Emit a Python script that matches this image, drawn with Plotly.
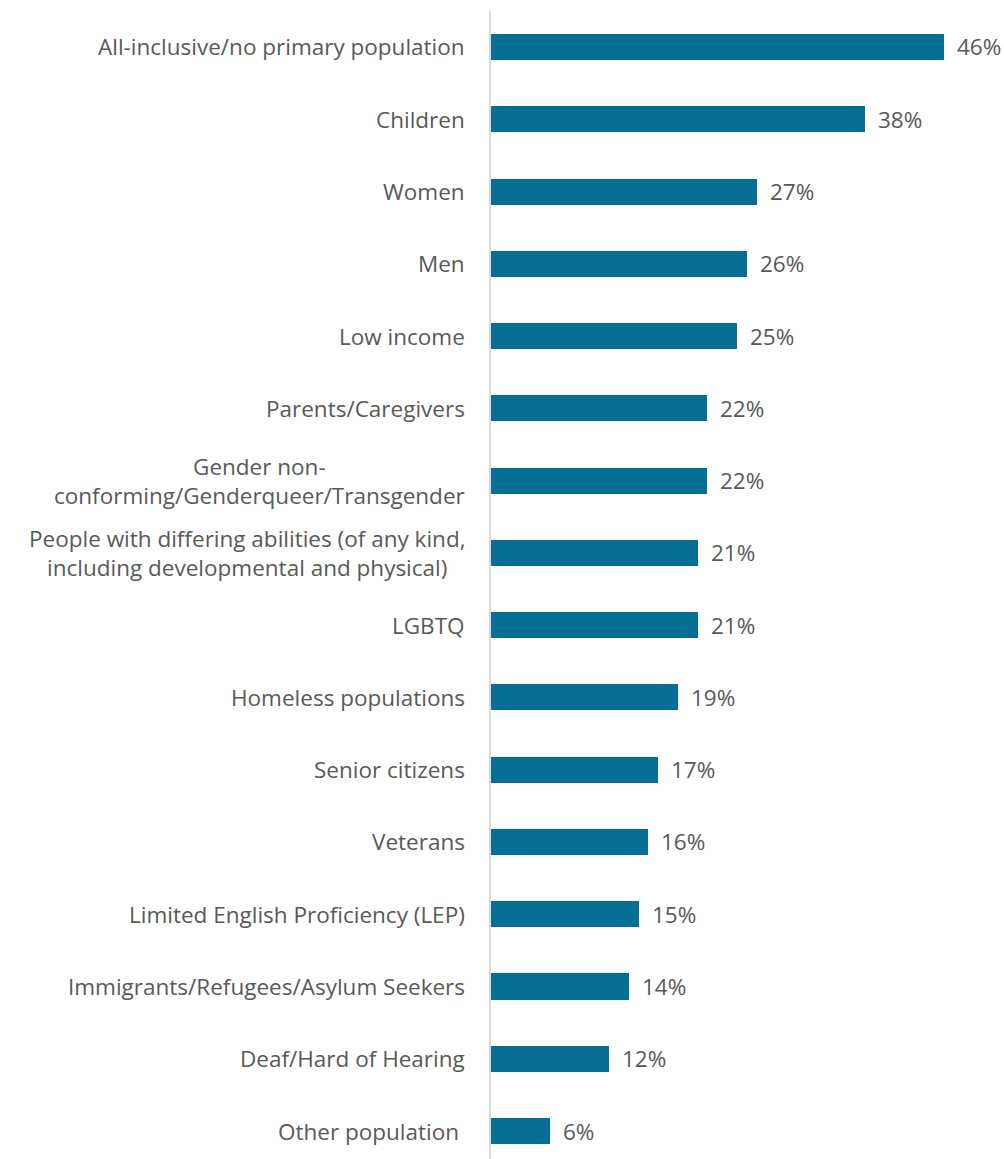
import plotly.graph_objects as go

# Populations served, top to bottom, with share of respondents (%)
categories = [
    "All-inclusive/no primary population",
    "Children",
    "Women",
    "Men",
    "Low income",
    "Parents/Caregivers",
    "Gender non-<br>conforming/Genderqueer/Transgender",
    "People with differing abilities (of any kind,<br>including developmental and physical)",
    "LGBTQ",
    "Homeless populations",
    "Senior citizens",
    "Veterans",
    "Limited English Proficiency (LEP)",
    "Immigrants/Refugees/Asylum Seekers",
    "Deaf/Hard of Hearing",
    "Other population\u00a0",
]
values = [46, 38, 27, 26, 25, 22, 22, 21, 21, 19, 17, 16, 15, 14, 12, 6]

BAR_COLOR = "#066F95"
TEXT_COLOR = "#595959"
FONT = "Open Sans"
FONT_SIZE = 22.5

positions = list(range(len(categories)))

fig = go.Figure(
    go.Bar(
        x=values,
        y=positions,
        orientation="h",
        width=0.36,
        marker=dict(color=BAR_COLOR, line=dict(width=0)),
        hoverinfo="skip",
    )
)

# Category labels: right-aligned block, centred lines for wrapped names
for pos, name in zip(positions, categories):
    fig.add_annotation(
        x=0, xref="paper", xanchor="right", xshift=-24,
        y=pos, yref="y", yanchor="middle",
        text=name, showarrow=False, align="center",
        font=dict(family=FONT, size=FONT_SIZE, color=TEXT_COLOR),
    )

# Value labels just past the end of each bar
for pos, v in zip(positions, values):
    fig.add_annotation(
        x=v, xref="x", xanchor="left", xshift=11,
        y=pos, yref="y", yanchor="middle",
        text=f"{v}%", showarrow=False,
        font=dict(family=FONT, size=FONT_SIZE, color=TEXT_COLOR),
    )

fig.update_layout(
    width=1004,
    height=1159,
    margin=dict(l=491, r=21, t=11, b=0),
    paper_bgcolor="white",
    plot_bgcolor="white",
    showlegend=False,
    bargap=0,
    xaxis=dict(range=[0, 50], visible=False, fixedrange=True),
    yaxis=dict(
        range=[15.387, -0.498],
        showticklabels=False,
        showgrid=False,
        zeroline=False,
        showline=True,
        linecolor="#D9D9D9",
        linewidth=1.5,
        ticks="",
        fixedrange=True,
    ),
)

fig.write_html("out.html")
